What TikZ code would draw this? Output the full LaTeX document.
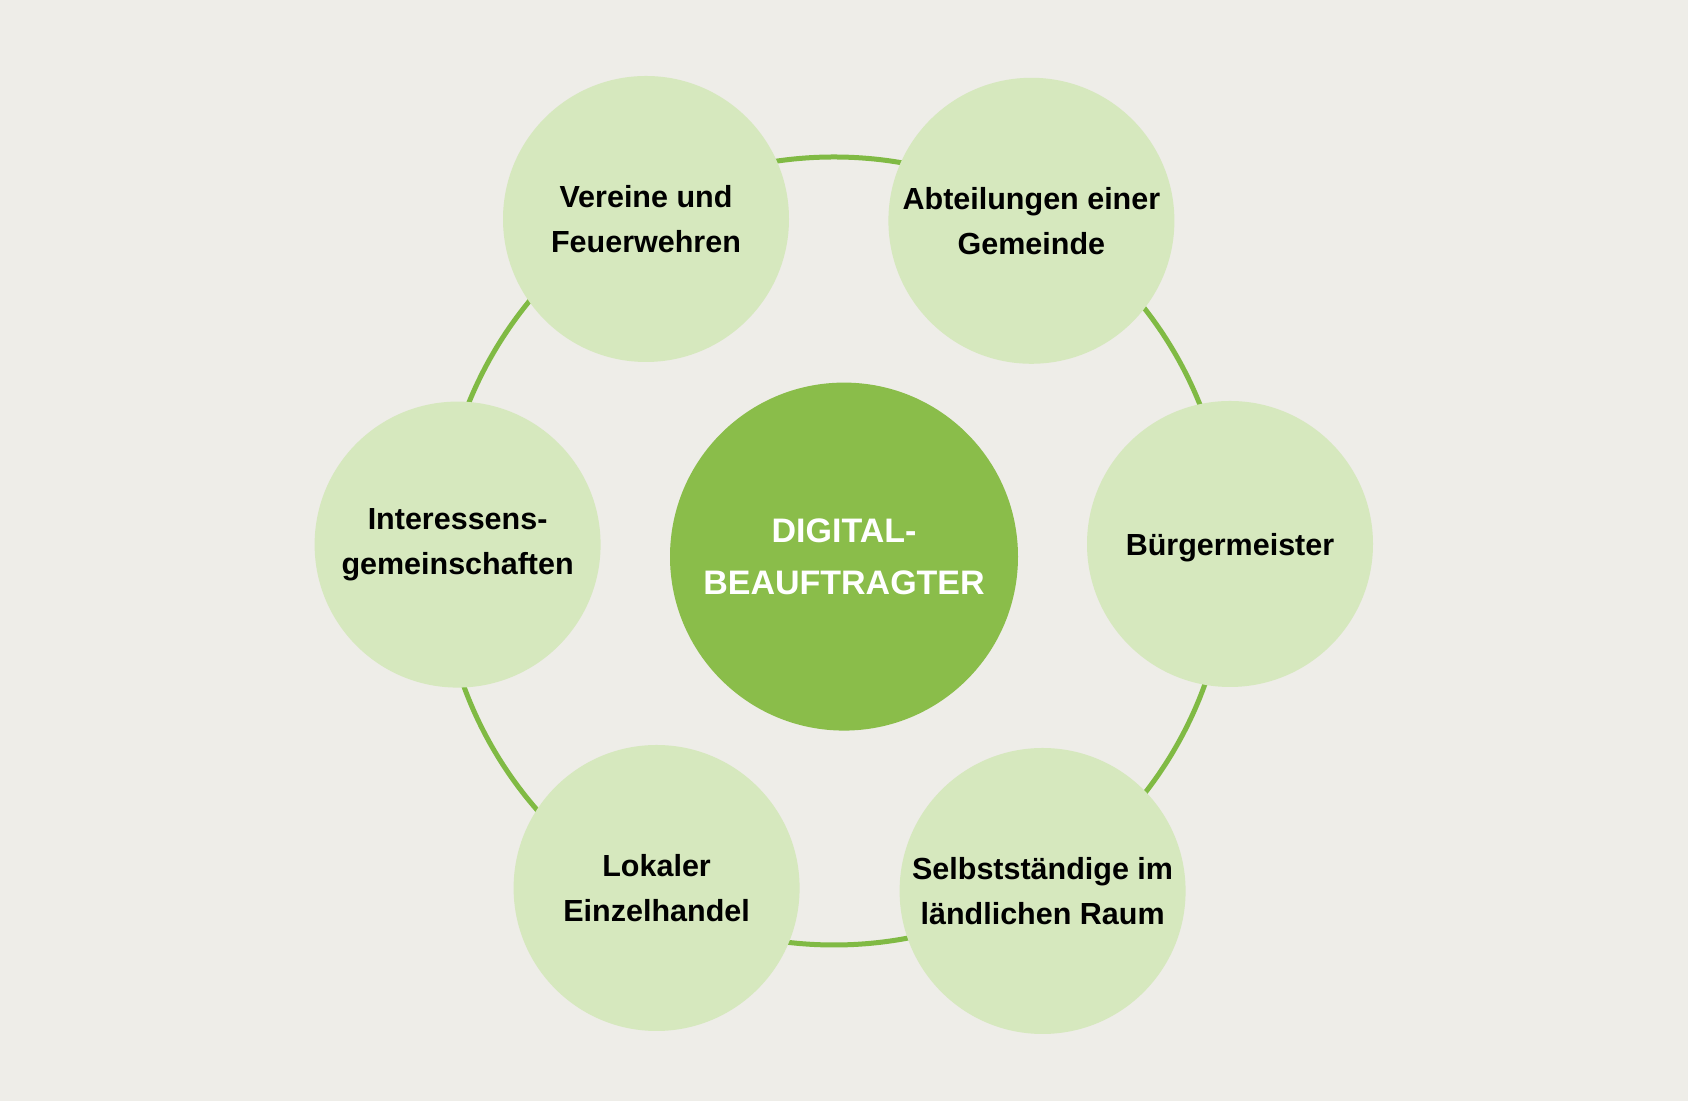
\documentclass[tikz,border=0pt]{standalone}
\usepackage{fontspec}
\setmainfont{Liberation Sans}
\usepackage{tikz}

\definecolor{paper}{RGB}{238,237,232}
\definecolor{leaf}{RGB}{214,232,190}
\definecolor{moss}{RGB}{138,189,74}
\definecolor{rim}{RGB}{128,186,68}

\begin{document}
\begin{tikzpicture}[x=1pt,y=1pt,
	hub/.style={circle,fill=moss,minimum size=174pt,inner sep=0pt,align=center,text=white,
		font=\bfseries\fontsize{17}{26}\selectfont},
	topic/.style={circle,fill=leaf,minimum size=143pt,inner sep=0pt,align=center,
		font=\bfseries\fontsize{15.25}{22.5}\selectfont},
	ring/.style={draw=rim,line width=2.5pt}]
	\fill[paper] (0,0) rectangle (844,550.5);
	\useasboundingbox (0,0) rectangle (844,550.5);

	\coordinate (mid) at (417,275);
	\draw[ring] (mid) circle [radius=197pt];

	\node[hub] (hub) at (422,272.2) {DIGITAL-\\BEAUFTRAGTER};
	\node[topic] (vereine) at (323,441) {Vereine und\\Feuerwehren};
	\node[topic] (abteilungen) at (515.7,440.1) {Abteilungen einer\\Gemeinde};
	\node[topic,text depth=0pt] (buergermeister) at (615,278.5) {Bürgermeister};
	\node[topic] (selbst) at (521.3,105) {Selbstständige im\\ländlichen Raum};
	\node[topic] (lokaler) at (328.3,106.5) {Lokaler\\Einzelhandel};
	\node[topic] (interessen) at (228.8,278.2) {Interessens-\\gemeinschaften};

\end{tikzpicture}
\end{document}
